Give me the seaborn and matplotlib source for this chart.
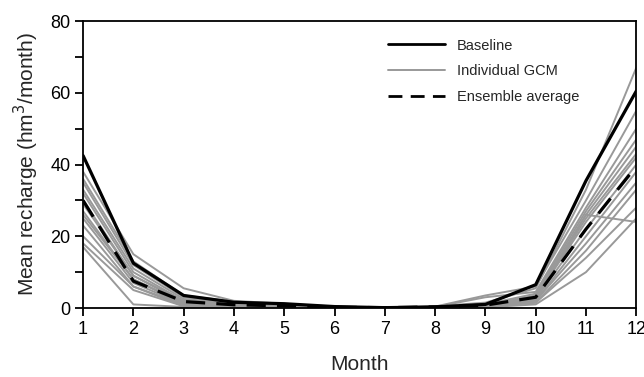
import numpy as np
import pandas as pd
import matplotlib
matplotlib.use("Agg")
import matplotlib.pyplot as plt
import seaborn as sns
from matplotlib.lines import Line2D

months = list(range(1, 13))
baseline = [42.5, 12.5, 3.5, 1.6, 1.2, 0.4, 0.1, 0.3, 1.0, 6.5, 35.5, 60.5]
ensemble = [30.0, 7.5, 1.8, 0.9, 0.6, 0.2, 0.1, 0.3, 0.8, 3.0, 22.0, 39.5]
gcms = {
    "G1":  [38, 15, 5.5, 2.0, 1.2, 0.4, 0.1, 0.5, 1.5, 5.5, 33, 67],
    "G2":  [36, 13, 3.5, 1.8, 1.0, 0.3, 0.1, 0.4, 3.5, 6.0, 30, 55],
    "G3":  [35, 12, 3.0, 1.5, 0.9, 0.3, 0.1, 0.3, 3.0, 4.5, 28, 50],
    "G4":  [33, 11, 2.5, 1.3, 0.8, 0.2, 0.1, 0.3, 1.0, 4.0, 27, 47],
    "G5":  [32, 10, 2.0, 1.2, 0.8, 0.2, 0.1, 0.3, 0.8, 3.5, 26, 45],
    "G6":  [30, 9, 2.0, 1.0, 0.7, 0.2, 0.1, 0.2, 0.7, 3.0, 25, 43],
    "G7":  [29, 9, 1.5, 1.0, 0.6, 0.2, 0.1, 0.2, 0.6, 3.0, 24, 42],
    "G8":  [27, 8, 1.5, 0.9, 0.6, 0.2, 0.1, 0.2, 0.5, 2.5, 22, 40],
    "G9":  [26, 8, 1.0, 0.8, 0.5, 0.2, 0.1, 0.2, 0.5, 2.5, 26, 24],
    "G10": [25, 7, 1.0, 0.7, 0.5, 0.1, 0.0, 0.2, 0.4, 2.0, 20, 38],
    "G11": [23, 6, 1.0, 0.6, 0.4, 0.1, 0.0, 0.1, 0.4, 2.0, 18, 35],
    "G12": [20, 6, 0.5, 0.5, 0.4, 0.1, 0.0, 0.1, 0.3, 1.5, 16, 33],
    "G13": [18, 5, 0.5, 0.4, 0.3, 0.1, 0.0, 0.1, 0.3, 1.5, 14, 28],
    "G14": [17, 1, 0.3, 0.3, 0.2, 0.1, 0.0, 0.1, 0.2, 1.0, 10, 25],
}

sns.set_theme(style="ticks")
plt.rcParams["font.family"] = ["Liberation Sans", "DejaVu Sans"]

fig = plt.figure(figsize=(6.44, 3.77), dpi=100)
ax = fig.add_axes([0.129, 0.183, 0.859, 0.761])

gdf = pd.DataFrame([(name, m, v) for name, vals in gcms.items() for m, v in zip(months, vals)],
                   columns=["gcm", "month", "value"])
sns.lineplot(data=gdf, x="month", y="value", units="gcm", estimator=None,
             color="#999999", lw=1.4, ax=ax, legend=False)
bdf = pd.DataFrame({"month": months, "value": baseline})
edf = pd.DataFrame({"month": months, "value": ensemble})
sns.lineplot(data=bdf, x="month", y="value", color="black", lw=2.3, ax=ax, legend=False)
sns.lineplot(data=edf, x="month", y="value", color="black", lw=2.3, ax=ax, legend=False)
ax.lines[-1].set_dashes([6, 3.5])

ax.set_xlim(1, 12)
ax.set_ylim(0, 80)
ax.set_xticks(months)
ax.set_yticks([0, 20, 40, 60, 80])
ax.set_yticks(np.arange(10, 80, 20), minor=True)
ax.tick_params(axis="both", which="both", direction="out", length=5.5, width=1.3,
               labelsize=13, colors="black")
ax.tick_params(axis="x", pad=4)
for s in ax.spines.values():
    s.set_linewidth(1.3)
    s.set_color("black")
ax.set_xlabel("Month", fontsize=15, labelpad=12)
ax.set_ylabel("Mean recharge (hm$^3$/month)", fontsize=15, labelpad=7)

handles = [Line2D([], [], color="black", lw=2.0),
           Line2D([], [], color="#999999", lw=1.4),
           Line2D([], [], color="black", lw=2.0, dashes=[5, 3])]
ax.legend(handles, ["Baseline", "Individual GCM", "Ensemble average"],
          loc="upper left", bbox_to_anchor=(0.528, 0.985), frameon=False,
          fontsize=10.5, handlelength=3.9, labelspacing=0.82, handletextpad=0.8)

fig.savefig("out.png", dpi=100)
